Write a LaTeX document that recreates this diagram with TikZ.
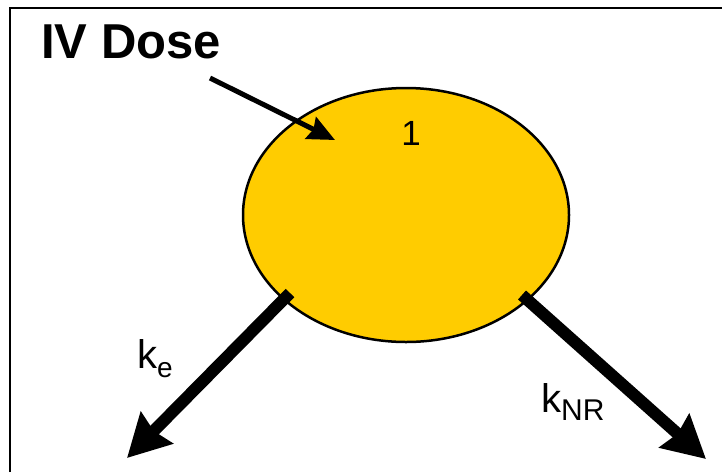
\documentclass[tikz,border=0pt]{standalone}
\usepackage{fontspec}
\setmainfont{Liberation Sans}
\usetikzlibrary{arrows.meta,shapes.geometric}
\definecolor{compyellow}{HTML}{FFCC00}
\tikzset{
  frameline/.style={line width=1.5pt},
  comp/.style={ellipse, draw, line width=2.5pt, fill=compyellow, inner sep=0pt,
    minimum width=326pt, minimum height=254pt},
  flowarrow/.style={line width=12pt, -{Stealth[length=42pt,width=44pt,inset=4pt]}},
  dosearrow/.style={line width=5pt, -{Stealth[length=27pt,width=24pt,inset=3pt]}},
  lbl/.style={inner sep=0pt}
}
\begin{document}
\begin{tikzpicture}[x=1pt,y=-1pt]
\useasboundingbox (0,0) rectangle (722,472);
\draw[frameline] (10,472) -- (10,8) -- (722,8);
\node[comp] (c) at (406,215) {};
\node[lbl, anchor=base west] (dose) at (41,58) {\fontsize{49}{49}\selectfont\bfseries IV Dose};
\node[lbl, anchor=base] (one) at (411,145) {\fontsize{35}{35}\selectfont 1};
\coordinate (dstart) at (210,78);
\coordinate (dtip) at (335,140);
\coordinate (kes) at (290,293);
\coordinate (ket) at (127,458);
\coordinate (kns) at (522,295);
\coordinate (knt) at (706,459);
\draw[dosearrow] (dstart) -- (dtip);
\draw[flowarrow] (kes) -- (ket);
\draw[flowarrow] (kns) -- (knt);
\node[lbl, anchor=base west] (ke) at (137,368) {\fontsize{40}{40}\selectfont k\raisebox{-9pt}{\fontsize{28}{28}\selectfont e}};
\node[lbl, anchor=base west] (knr) at (541,412) {\fontsize{40}{40}\selectfont k\raisebox{-8pt}{\fontsize{30}{30}\selectfont NR}};
\end{tikzpicture}
\end{document}
